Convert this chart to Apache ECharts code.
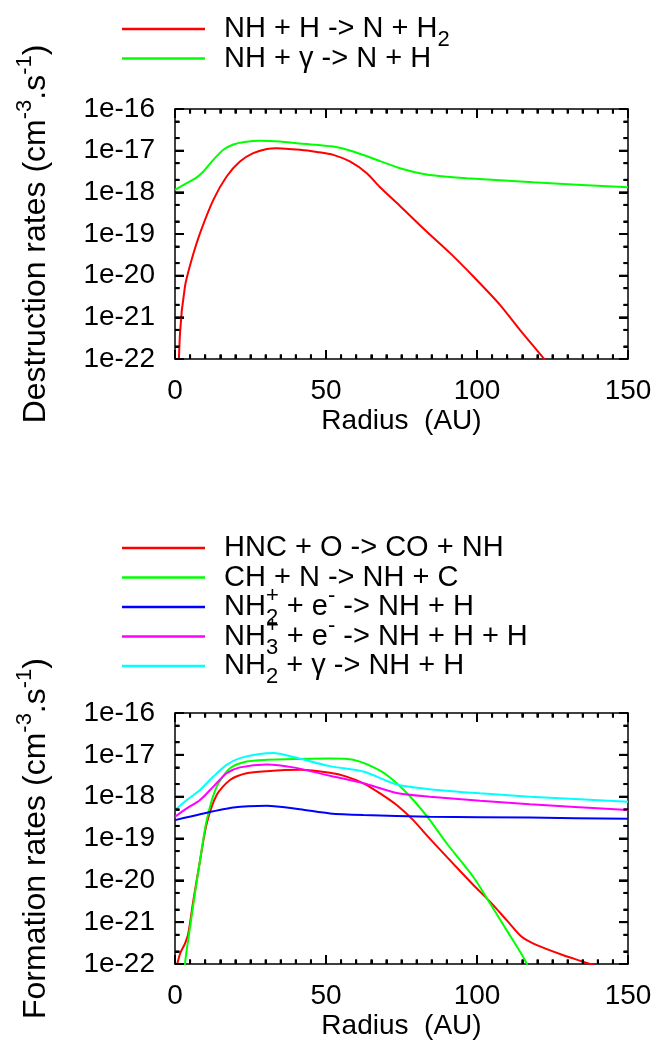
<!DOCTYPE html>
<html><head><meta charset="utf-8">
<script src="https://cdn.jsdelivr.net/npm/echarts@6/dist/echarts.min.js"></script>
<style>html,body{margin:0;padding:0;background:#fff}#c{width:657px;height:1045px}</style>
</head><body><div id="c"></div>
<script>
const FONT = 'Liberation Sans';

// ---- ticks ----
const xTickValues = [0, 50, 100, 150];
const xMinorValues = [5, 10, 15, 20, 25, 30, 35, 40, 45, 55, 60, 65, 70, 75, 80, 85, 90, 95, 105, 110, 115, 120, 125, 130, 135, 140, 145];
const yTickValues = [1e-22, 1e-21, 1e-20, 1e-19, 1e-18, 1e-17, 1e-16];
const yTickLabels = ['1e-22', '1e-21', '1e-20', '1e-19', '1e-18', '1e-17', '1e-16'];
const yMinorValues = [2e-22, 5e-22, 2e-21, 5e-21, 2e-20, 5e-20, 2e-19, 5e-19, 2e-18, 5e-18, 2e-17, 5e-17];

// ---- top: destruction rates ----
const nhH_r = [0.5, 1.66, 3.3, 5.5, 8.3, 12.7, 17.1, 21.5, 25.9, 30.4, 33.7, 41.4, 47, 52.4, 57.9, 63.5, 67.9, 74.5, 83.3, 91.1, 98.8, 107.6, 114.2, 122, 126];
const nhH_v = [1e-24, 4.17e-22, 5.50e-21, 2.40e-20, 1.05e-19, 6.61e-19, 2.40e-18, 5.50e-18, 8.71e-18, 1.10e-17, 1.15e-17, 1.05e-17, 9.3e-18, 7.94e-18, 5.50e-18, 2.88e-18, 1.32e-18, 4.70e-19, 1.15e-19, 3.47e-20, 9.55e-21, 2.00e-21, 5.01e-22, 1.05e-22, 4.47e-23];
const nhG_r = [0, 3.9, 7.2, 9.4, 12.7, 16, 19.3, 23, 28.1, 34.8, 41.4, 52.4, 59, 67.9, 74.5, 83.3, 96.6, 118.6, 150];
const nhG_v = [1.15e-18, 1.66e-18, 2.29e-18, 3.16e-18, 6.03e-18, 1.05e-17, 1.41e-17, 1.62e-17, 1.74e-17, 1.66e-17, 1.48e-17, 1.26e-17, 9.55e-18, 5.62e-18, 3.80e-18, 2.69e-18, 2.19e-18, 1.74e-18, 1.32e-18];

// ---- bottom: formation rates ----
const hnc_r = [0, 1.7, 3.3, 4.4, 6.1, 8.3, 10.5, 13.8, 18.2, 23.7, 30.4, 41.4, 51.3, 56.8, 62.4, 67.9, 73.4, 78.9, 83.3, 90, 98.8, 104.3, 109.8, 114.8, 119.8, 128.6, 137.4, 142];
const hnc_v = [6e-23, 1.78e-22, 3.09e-22, 5.37e-22, 3.39e-21, 3.02e-20, 2.29e-19, 1.10e-18, 2.51e-18, 3.63e-18, 4.07e-18, 4.37e-18, 3.72e-18, 3.02e-18, 2.09e-18, 1.20e-18, 6.31e-19, 2.75e-19, 1.20e-19, 3.63e-20, 7.76e-21, 3.09e-21, 1.12e-21, 4.47e-22, 2.82e-22, 1.62e-22, 1.00e-22, 7.08e-23];
const chn_r = [2, 3.3, 5, 6.6, 8.3, 10.5, 13.8, 18.2, 23.7, 30.4, 41.4, 51.3, 59, 67.9, 73.4, 78.9, 84.4, 90, 98.8, 104.3, 109.8, 114.2, 116.5, 118];
const chn_v = [3e-24, 1e-22, 7.76e-22, 4.90e-21, 3.02e-20, 2.75e-19, 1.74e-18, 4.79e-18, 6.92e-18, 7.59e-18, 7.94e-18, 8.13e-18, 7.59e-18, 4.17e-18, 2.09e-18, 8.32e-19, 2.75e-19, 7.59e-20, 1.20e-20, 2.82e-21, 6.46e-22, 2.00e-22, 1.0e-22, 4e-23];
const nh2p_r = [0, 8.3, 19.3, 30.4, 41.4, 51.3, 62.4, 84.4, 117.5, 150];
const nh2p_v = [2.75e-19, 3.80e-19, 5.50e-19, 6.03e-19, 5.01e-19, 3.98e-19, 3.63e-19, 3.31e-19, 3.16e-19, 2.95e-19];
const nh3p_r = [0, 3.9, 8.3, 12.7, 17.1, 21.5, 30.4, 39.2, 51.3, 62.4, 73.4, 84.4, 101, 117.5, 150];
const nh3p_v = [3.31e-19, 5.25e-19, 8.32e-19, 1.74e-18, 3.63e-18, 5.01e-18, 5.89e-18, 5.01e-18, 3.16e-18, 2.09e-18, 1.23e-18, 1.00e-18, 7.94e-19, 6.61e-19, 4.79e-19];
const nh2g_r = [0, 3.9, 8.3, 12.7, 17.1, 21.5, 28.1, 32.6, 39.2, 51.3, 62.4, 73.4, 84.4, 101, 117.5, 150];
const nh2g_v = [4.79e-19, 8.32e-19, 1.45e-18, 3.02e-18, 5.75e-18, 8.32e-18, 1.05e-17, 1.10e-17, 8.91e-18, 5.37e-18, 3.98e-18, 1.95e-18, 1.51e-18, 1.20e-18, 1.00e-18, 7.59e-19];

const topNames = ['NH + H -> N + H2', 'NH + γ -> N + H'];
const botNames = ['HNC + O -> CO + NH', 'CH + N -> NH + C', 'NH2+ + e- -> NH + H', 'NH3+ + e- -> NH + H + H', 'NH2 + γ -> NH + H'];
const richNames = {
  'NH + H -> N + H2': '{t|NH + H -> N + H}{s|2}',
  'NH + γ -> N + H': '{t|NH + γ -> N + H}',
  'HNC + O -> CO + NH': '{t|HNC + O -> CO + NH}',
  'CH + N -> NH + C': '{t|CH + N -> NH + C}',
  'NH2+ + e- -> NH + H': '{t|NH}{s0|2}{p|+}{t| + e}{p|-}{t| -> NH + H}',
  'NH3+ + e- -> NH + H + H': '{t|NH}{s0|3}{p|+}{t| + e}{p|-}{t| -> NH + H + H}',
  'NH2 + γ -> NH + H': '{t|NH}{s|2}{t| + γ -> NH + H}'
};

const zip = (a, b) => a.map((x, i) => [x, b[i]]);

function rich(main) {
  const sub = {fontFamily: FONT, fontSize: 22, lineHeight: 8, height: 8, verticalAlign: 'bottom', color: '#000'};
  const sup = {fontFamily: FONT, fontSize: 22, lineHeight: 8, height: 8, verticalAlign: 'top', color: '#000'};
  return {
    t: {fontFamily: FONT, fontSize: main, lineHeight: 30, color: '#000'},
    s: sub,
    s0: Object.assign({}, sub, {width: 0}),
    p: sup,
    hu: Object.assign({}, sup, {width: 0, color: 'rgba(0,0,0,0)'}),
    hd: Object.assign({}, sub, {width: 0, color: 'rgba(0,0,0,0)'}),
    g: {fontFamily: FONT, fontSize: main, lineHeight: 30, width: 14}
  };
}

const lineBlack = {color: '#000', width: 1.5};

function xAxes(gi) {
  const base = {
    type: 'value', gridIndex: gi, min: 0, max: 150, interval: 50,
    splitLine: {show: false}, minorSplitLine: {show: false},
    axisTick: {show: true, inside: true, length: 9, lineStyle: {color: '#000', width: 2}},
    minorTick: {show: true, splitNumber: 10, length: 4.5, lineStyle: {color: '#000', width: 2}},
    axisLine: {show: true, onZero: false, lineStyle: lineBlack}
  };
  return [
    Object.assign({}, base, {
      position: 'bottom',
      axisLabel: {show: true, fontFamily: FONT, fontSize: 28, color: '#000', margin: 18},
      name: 'Radius  (AU)', nameLocation: 'middle', nameGap: 44,
      nameTextStyle: {fontFamily: FONT, fontSize: 28, lineHeight: 30, color: '#000'}
    }),
    Object.assign({}, base, {position: 'top', axisLabel: {show: false}})
  ];
}
function yAxes(gi, title) {
  const base = {type: 'log', logBase: 10, gridIndex: gi, min: 1e-22, max: 1e-16, splitLine: {show: false}};
  const tick = (vals, len) => ({show: true, inside: true, length: len, lineStyle: {color: '#000', width: 2}, customValues: vals});
  return [
    Object.assign({}, base, {
      position: 'left',
      axisLine: {show: true, onZero: false, lineStyle: lineBlack},
      axisTick: tick(yTickValues, 9),
      axisLabel: {show: true, fontFamily: FONT, fontSize: 28, color: '#000', margin: 20, customValues: yTickValues,
        formatter: v => { const i = yTickValues.findIndex(t => Math.abs(Math.log10(t) - Math.log10(v)) < 1e-3); return i >= 0 ? yTickLabels[i] : ''; }},
      name: title, nameLocation: 'middle', nameRotate: 90, nameGap: 124,
      nameTextStyle: {fontFamily: FONT, fontSize: 32, lineHeight: 30, color: '#000', rich: rich(32)}
    }),
    Object.assign({}, base, {
      position: 'right', axisLine: {show: true, onZero: false, lineStyle: lineBlack},
      axisTick: tick(yTickValues, 9), axisLabel: {show: false}
    }),
    Object.assign({}, base, {
      position: 'left', axisLine: {show: false, onZero: false},
      axisTick: tick(yMinorValues, 4.5), axisLabel: {show: false}
    }),
    Object.assign({}, base, {
      position: 'right', axisLine: {show: false, onZero: false},
      axisTick: tick(yMinorValues, 4.5), axisLabel: {show: false}
    })
  ];
}

function ser(name, r, v, color, gi) {
  return {
    name, type: 'line', xAxisIndex: gi * 2, yAxisIndex: gi * 4,
    data: zip(r, v), color, showSymbol: false, symbol: 'none',
    smooth: 0.25, lineStyle: {width: 2, color}, clip: true, z: 3
  };
}

function legend(names, top) {
  return {
    data: names, orient: 'vertical', left: 122, top, itemWidth: 83, itemHeight: 2.5, itemGap: -14.5,
    icon: 'rect', selectedMode: false, padding: 0,
    textStyle: {fontFamily: FONT, fontSize: 29, lineHeight: 30, color: '#000', rich: rich(29)},
    formatter: n => '{g| }{hu| }{hd| }' + richNames[n]
  };
}

const chart = echarts.init(document.getElementById('c'), null, {renderer: 'canvas'});
chart.setOption({
  animation: false,
  backgroundColor: '#fff',
  grid: [
    {left: 175, top: 109, width: 453, height: 250},
    {left: 175, top: 713, width: 453, height: 251}
  ],
  legend: [legend(topNames, 7), legend(botNames, 526)],
  xAxis: [...xAxes(0), ...xAxes(1)],
  yAxis: [...yAxes(0, 'Destruction rates (cm{p|-3}{t|.s}{p|-1}{t|)}'), ...yAxes(1, 'Formation rates (cm{p|-3}{t|.s}{p|-1}{t|)}')],
  series: [
    ser(topNames[0], nhH_r, nhH_v, '#ff0000', 0),
    ser(topNames[1], nhG_r, nhG_v, '#00ff00', 0),
    ser(botNames[0], hnc_r, hnc_v, '#ff0000', 1),
    ser(botNames[1], chn_r, chn_v, '#00ff00', 1),
    ser(botNames[2], nh2p_r, nh2p_v, '#0000ff', 1),
    ser(botNames[3], nh3p_r, nh3p_v, '#ff00ff', 1),
    ser(botNames[4], nh2g_r, nh2g_v, '#00ffff', 1)
  ]
});

// backup: inward frame ticks positioned through the axes' own scales
try {
  const frameTickGraphics = (gi) => {
    const els = [];
    const P = v => chart.convertToPixel({xAxisIndex: gi * 2, yAxisIndex: gi * 4}, v);
    const seg = (x1, y1, x2, y2) => els.push({type: 'line', silent: true, z: 100,
      shape: {x1, y1, x2, y2}, style: {stroke: '#000', lineWidth: 2}});
    const addX = (vals, len) => vals.forEach(x => {
      const b = P([x, 1e-22]), t = P([x, 1e-16]);
      if (b && t) { seg(b[0], b[1], b[0], b[1] - len); seg(t[0], t[1], t[0], t[1] + len); }
    });
    const addY = (vals, len) => vals.forEach(y => {
      const l = P([0, y]), r = P([150, y]);
      if (l && r) { seg(l[0], l[1], l[0] + len, l[1]); seg(r[0], r[1], r[0] - len, r[1]); }
    });
    addX(xTickValues, 9); addX(xMinorValues, 4.5);
    addY(yTickValues, 9); addY(yMinorValues, 4.5);
    return els;
  };
  chart.setOption({graphic: [...frameTickGraphics(0), ...frameTickGraphics(1)]});
} catch (e) { /* axis ticks above remain */ }
</script></body></html>
